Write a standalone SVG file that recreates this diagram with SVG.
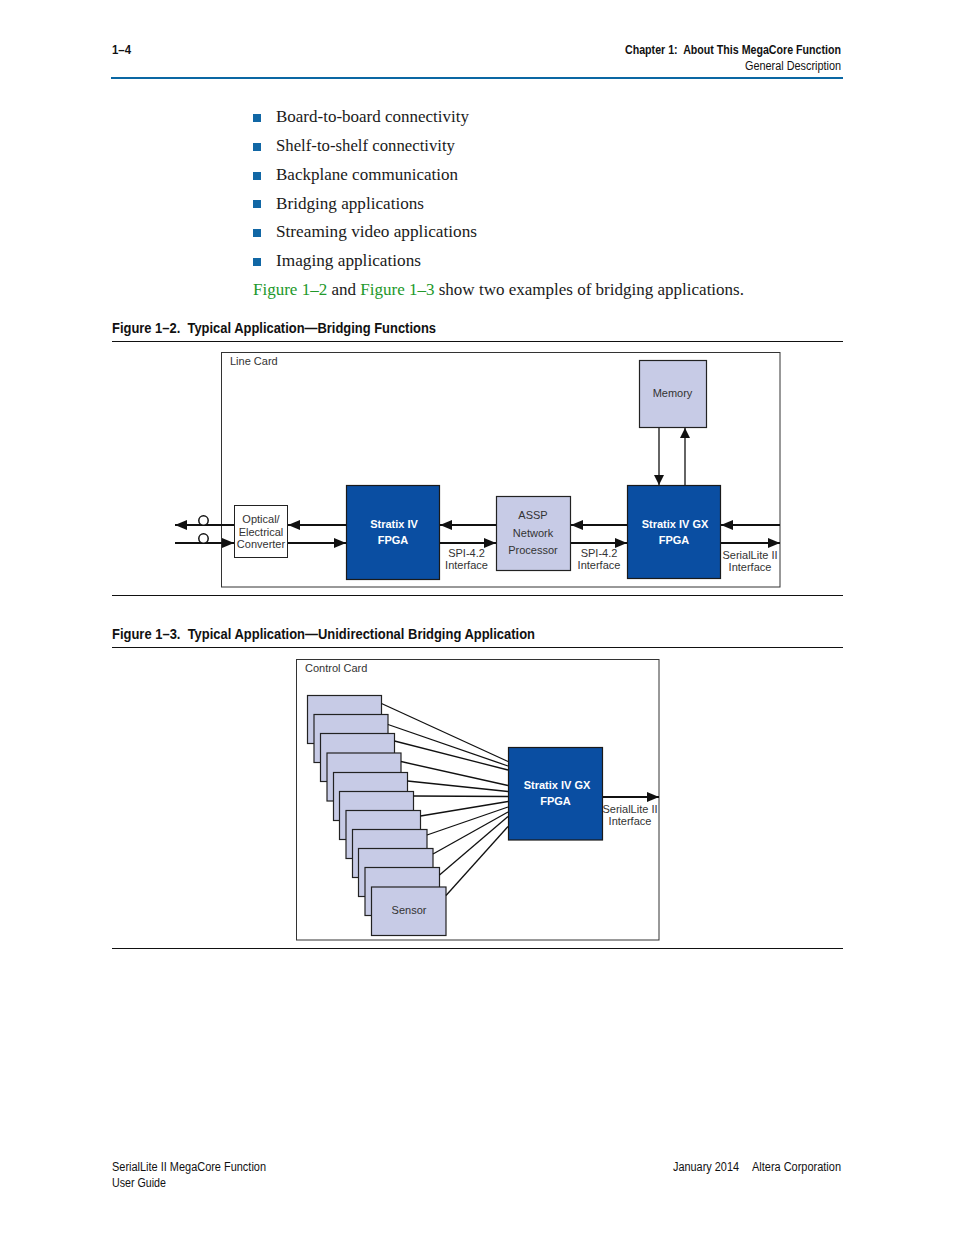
<svg xmlns="http://www.w3.org/2000/svg" width="954" height="1235" viewBox="0 0 954 1235">
<style>
.cond{font-family:"Liberation Sans Narrow","Liberation Sans",Arial,sans-serif;fill:#111}
.b{font-weight:bold}
.body{font-family:"Liberation Serif","DejaVu Serif",serif;font-size:16.5px;fill:#1a1a1a}
.lnk{fill:#22982a}
.lbl{font-family:"Liberation Sans",Arial,sans-serif;font-size:11px;fill:#333;text-anchor:middle}
.wl{font-family:"Liberation Sans",Arial,sans-serif;font-size:11px;font-weight:bold;fill:#fff;text-anchor:middle}
.frame{fill:#fff;stroke:#333;stroke-width:1}
.lav{fill:#c7cbe6;stroke:#222;stroke-width:1.2}
.blue{fill:#0a4ea2;stroke:#1a1a1a;stroke-width:1.2}
.wbox{fill:#fff;stroke:#222;stroke-width:1}
.thick{stroke:#111;stroke-width:2;fill:none}
.thin{stroke:#111;stroke-width:1.3;fill:none}
.rule{stroke:#111;stroke-width:1}
.bul{fill:#1167a5}
</style>
<defs>
<marker id="ah" viewBox="0 0 12 10" refX="12" refY="5" markerWidth="12" markerHeight="10" markerUnits="userSpaceOnUse" orient="auto">
<path d="M0,0 L12,5 L0,10 Z" fill="#111"/>
</marker>
<marker id="ahs" viewBox="0 0 10 10" refX="10" refY="5" markerWidth="10" markerHeight="10" markerUnits="userSpaceOnUse" orient="auto">
<path d="M0,0 L10,5 L0,10 Z" fill="#111"/>
</marker>
</defs>

<g id="page-header">
<text class="cond b" x="112" y="54" font-size="12.5" textLength="19" lengthAdjust="spacingAndGlyphs">1–4</text>
<text class="cond b" x="841" y="54" font-size="12.5" text-anchor="end" textLength="216" lengthAdjust="spacingAndGlyphs">Chapter 1:&#160; About This MegaCore Function</text>
<text class="cond" x="841" y="70" font-size="12.5" text-anchor="end" textLength="96" lengthAdjust="spacingAndGlyphs">General Description</text>
<line x1="111" y1="78" x2="843" y2="78" stroke="#0a67a3" stroke-width="2.2"/>
</g>

<g id="bullets">
<rect class="bul" x="253" y="114" width="8" height="8"/>
<rect class="bul" x="253" y="143" width="8" height="8"/>
<rect class="bul" x="253" y="172" width="8" height="8"/>
<rect class="bul" x="253" y="200" width="8" height="8"/>
<rect class="bul" x="253" y="229" width="8" height="8"/>
<rect class="bul" x="253" y="258" width="8" height="8"/>
<text class="body" x="276" y="122" textLength="193" lengthAdjust="spacingAndGlyphs">Board-to-board connectivity</text>
<text class="body" x="276" y="151" textLength="179" lengthAdjust="spacingAndGlyphs">Shelf-to-shelf connectivity</text>
<text class="body" x="276" y="180" textLength="182" lengthAdjust="spacingAndGlyphs">Backplane communication</text>
<text class="body" x="276" y="209" textLength="148" lengthAdjust="spacingAndGlyphs">Bridging applications</text>
<text class="body" x="276" y="237" textLength="201" lengthAdjust="spacingAndGlyphs">Streaming video applications</text>
<text class="body" x="276" y="266" textLength="145" lengthAdjust="spacingAndGlyphs">Imaging applications</text>
<text class="body" x="253" y="295" textLength="491" lengthAdjust="spacingAndGlyphs"><tspan class="lnk">Figure 1–2</tspan> and <tspan class="lnk">Figure 1–3</tspan> show two examples of bridging applications.</text>
</g>

<g id="fig2-caption">
<text class="cond b" x="112" y="333" font-size="14.5" textLength="324" lengthAdjust="spacingAndGlyphs">Figure 1–2.&#160; Typical Application—Bridging Functions</text>
<line class="rule" x1="112" y1="341.5" x2="843" y2="341.5"/>
<line class="rule" x1="112" y1="595.5" x2="843" y2="595.5"/>
</g>

<g id="line-card">
<rect class="frame" x="221.5" y="352.5" width="558.5" height="234.5"/>
<text class="lbl" x="230" y="365" style="text-anchor:start">Line Card</text>
</g>
<g id="converter">
<rect class="wbox" x="234.5" y="505.5" width="53" height="52"/>
<text class="lbl" x="261" y="523">Optical/</text>
<text class="lbl" x="261" y="535.5">Electrical</text>
<text class="lbl" x="261" y="548">Converter</text>
</g>
<g id="stratix-iv">
<rect class="blue" x="346.5" y="485.5" width="93" height="94"/>
<text class="wl" x="394" y="528">Stratix IV</text>
<text class="wl" x="393" y="544">FPGA</text>
</g>
<g id="assp">
<rect class="lav" x="496.5" y="496.5" width="74" height="74"/>
<text class="lbl" x="533" y="519">ASSP</text>
<text class="lbl" x="533" y="537">Network</text>
<text class="lbl" x="533" y="554">Processor</text>
</g>
<g id="stratix-iv-gx">
<rect class="blue" x="627.5" y="485.5" width="93" height="93"/>
<text class="wl" x="675" y="528">Stratix IV GX</text>
<text class="wl" x="674" y="543.5">FPGA</text>
</g>
<g id="memory">
<rect class="lav" x="639.5" y="360.5" width="67" height="67"/>
<text class="lbl" x="672.5" y="397">Memory</text>
</g>
<g id="fig2-labels">
<text class="lbl" x="466.5" y="557">SPI-4.2</text>
<text class="lbl" x="466.5" y="569">Interface</text>
<text class="lbl" x="599" y="557">SPI-4.2</text>
<text class="lbl" x="599" y="569">Interface</text>
<text class="lbl" x="750" y="559">SerialLite II</text>
<text class="lbl" x="750" y="571">Interface</text>
</g>
<g id="fig2-connectors">
<line class="thick" x1="234" y1="525" x2="175" y2="525" marker-end="url(#ah)"/>
<line class="thick" x1="175" y1="543" x2="234" y2="543" marker-end="url(#ah)"/>
<circle cx="203.5" cy="520.5" r="4.7" fill="#fff" stroke="#111" stroke-width="1.5"/>
<circle cx="203.5" cy="538.5" r="4.7" fill="#fff" stroke="#111" stroke-width="1.5"/>
<line class="thick" x1="346" y1="525" x2="288" y2="525" marker-end="url(#ah)"/>
<line class="thick" x1="288" y1="543" x2="346" y2="543" marker-end="url(#ah)"/>
<line class="thick" x1="496" y1="525" x2="440" y2="525" marker-end="url(#ah)"/>
<line class="thick" x1="440" y1="543" x2="496" y2="543" marker-end="url(#ah)"/>
<line class="thick" x1="627" y1="525" x2="571" y2="525" marker-end="url(#ah)"/>
<line class="thick" x1="571" y1="543" x2="627" y2="543" marker-end="url(#ah)"/>
<line class="thick" x1="780" y1="525" x2="721" y2="525" marker-end="url(#ah)"/>
<line class="thick" x1="721" y1="543" x2="780" y2="543" marker-end="url(#ah)"/>
<line class="thin" x1="659" y1="428" x2="659" y2="485" marker-end="url(#ahs)"/>
<line class="thin" x1="685" y1="485" x2="685" y2="428" marker-end="url(#ahs)"/>
</g>

<g id="fig3-caption">
<text class="cond b" x="112" y="639" font-size="14.5" textLength="423" lengthAdjust="spacingAndGlyphs">Figure 1–3.&#160; Typical Application—Unidirectional Bridging Application</text>
<line class="rule" x1="112" y1="647.5" x2="843" y2="647.5"/>
<line class="rule" x1="112" y1="948.5" x2="843" y2="948.5"/>
</g>

<g id="control-card">
<rect class="frame" x="296.5" y="659.5" width="362.5" height="280.5"/>
<text class="lbl" x="305" y="672" style="text-anchor:start">Control Card</text>
</g>
<g id="sensors">
<rect class="lav" x="307.5" y="695.5" width="74" height="48"/>
<rect class="lav" x="314" y="714.5" width="74" height="48"/>
<rect class="lav" x="320.5" y="733.5" width="74" height="48"/>
<rect class="lav" x="327" y="753" width="74" height="48"/>
<rect class="lav" x="333.5" y="772.5" width="74" height="48"/>
<rect class="lav" x="339.5" y="791.5" width="74" height="48"/>
<rect class="lav" x="346" y="810.5" width="74.5" height="48"/>
<rect class="lav" x="352.5" y="829.5" width="74.5" height="48"/>
<rect class="lav" x="358.5" y="848.5" width="74.5" height="48"/>
<rect class="lav" x="365" y="867.5" width="74.5" height="48"/>
<rect class="lav" x="371.5" y="887" width="74.5" height="48.5"/>
<text class="lbl" x="409" y="914">Sensor</text>
</g>
<g id="fig3-fpga">
<rect class="blue" x="508.5" y="747.5" width="94" height="92.5"/>
<text class="wl" x="557" y="789">Stratix IV GX</text>
<text class="wl" x="555.5" y="805">FPGA</text>
</g>
<g id="fig3-connectors">
<line class="thin" x1="381.5" y1="703.5" x2="508" y2="761.5"/>
<line class="thin" x1="388" y1="724.5" x2="508" y2="766"/>
<line class="thin" x1="394.5" y1="741" x2="508" y2="770"/>
<line class="thin" x1="401" y1="761.5" x2="508" y2="785.5"/>
<line class="thin" x1="407.5" y1="781" x2="508" y2="791.5"/>
<line class="thin" x1="413.5" y1="796" x2="508" y2="796.5"/>
<line class="thin" x1="420.5" y1="816" x2="508" y2="801.5"/>
<line class="thin" x1="427" y1="835" x2="508" y2="807"/>
<line class="thin" x1="433" y1="854" x2="508" y2="812"/>
<line class="thin" x1="439.5" y1="875" x2="508" y2="816.5"/>
<line class="thin" x1="446" y1="895.5" x2="508" y2="826.5"/>
<line class="thick" x1="603" y1="797" x2="659" y2="797" marker-end="url(#ah)"/>
</g>
<g id="fig3-labels">
<text class="lbl" x="630" y="813">SerialLite II</text>
<text class="lbl" x="630" y="824.5">Interface</text>
</g>

<g id="footer">
<text class="cond" x="112" y="1171" font-size="12.5" textLength="154" lengthAdjust="spacingAndGlyphs">SerialLite II MegaCore Function</text>
<text class="cond" x="112" y="1187" font-size="12.5" textLength="54" lengthAdjust="spacingAndGlyphs">User Guide</text>
<text class="cond" x="673" y="1171" font-size="12.5" textLength="66" lengthAdjust="spacingAndGlyphs">January 2014</text>
<text class="cond" x="841" y="1171" font-size="12.5" text-anchor="end" textLength="89" lengthAdjust="spacingAndGlyphs">Altera Corporation</text>
</g>
</svg>
